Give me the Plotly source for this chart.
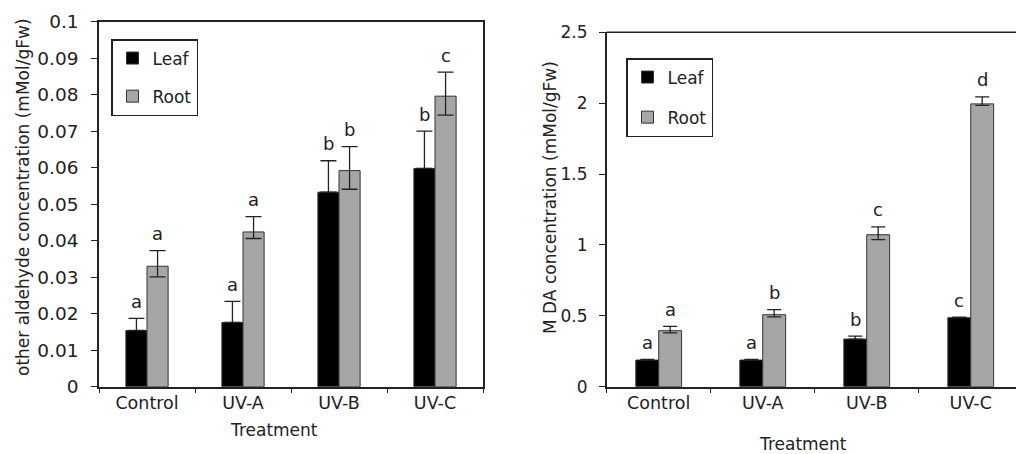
import plotly.graph_objects as go

categories = ["Control", "UV-A", "UV-B", "UV-C"]

# Left chart: other aldehyde concentration (mMol/gFw)
ald_leaf = [0.0154, 0.0176, 0.0533, 0.0598]
ald_leaf_err = [0.0033, 0.0058, 0.0086, 0.0102]
ald_leaf_err_minus = [0, 0, 0, 0]  # lower arm hidden inside the black bar
ald_root = [0.0330, 0.0424, 0.0592, 0.0796]
ald_root_err = [0.0043, 0.0042, 0.0066, 0.0066]
ald_root_err_minus = [0.0029, 0.0018, 0.0051, 0.0052]
ald_leaf_letters = ["a", "a", "b", "b"]
ald_root_letters = ["a", "a", "b", "c"]

# Right chart: MDA concentration (mMol/gFw)
mda_leaf = [0.188, 0.188, 0.336, 0.487]
mda_leaf_err = [0.004, 0.004, 0.021, 0.004]
mda_leaf_err_minus = [0, 0, 0, 0]
mda_root = [0.395, 0.508, 1.072, 1.995]
mda_root_err = [0.030, 0.035, 0.056, 0.050]
mda_root_err_minus = [0.015, 0.015, 0.035, 0.010]
mda_leaf_letters = ["a", "a", "b", "c"]
mda_root_letters = ["a", "b", "c", "d"]

FONT = "DejaVu Sans"
TXT = "#222222"
LEAF_C = "#000000"
ROOT_C = "#a6a6a6"
EDGE = "#333333"

fig = go.Figure()

def add_pair(leaf, leaf_err, leaf_err_m, root, root_err, root_err_m, xa, ya, legend, capw):
    fig.add_trace(go.Bar(
        x=categories, y=leaf, name="Leaf", xaxis=xa, yaxis=ya, legend=legend,
        legendgroup=legend + "leaf",
        marker=dict(color=LEAF_C, line=dict(color=EDGE, width=1)),
        error_y=dict(type="data", array=leaf_err, arrayminus=leaf_err_m, symmetric=False,
                     color=TXT, thickness=1.3, width=capw),
    ))
    fig.add_trace(go.Bar(
        x=categories, y=root, name="Root", xaxis=xa, yaxis=ya, legend=legend,
        legendgroup=legend + "root",
        marker=dict(color=ROOT_C, line=dict(color=EDGE, width=1)),
        error_y=dict(type="data", array=root_err, arrayminus=root_err_m, symmetric=False,
                     color=TXT, thickness=1.3, width=capw),
    ))

add_pair(ald_leaf, ald_leaf_err, ald_leaf_err_minus, ald_root, ald_root_err, ald_root_err_minus,
         "x", "y", "legend", 8)
add_pair(mda_leaf, mda_leaf_err, mda_leaf_err_minus, mda_root, mda_root_err, mda_root_err_minus,
         "x2", "y2", "legend2", 7)

annotations = []
def add_letters(vals, errs, letters, xref, yref, shift):
    for c, v, e, t in zip(categories, vals, errs, letters):
        annotations.append(dict(x=c, y=v + e, xref=xref, yref=yref, text=t, showarrow=False,
                                xshift=shift, yshift=17, yanchor="middle",
                                font=dict(family=FONT, size=18, color=TXT)))

add_letters(ald_leaf, ald_leaf_err, ald_leaf_letters, "x", "y", -10.5)
add_letters(ald_root, ald_root_err, ald_root_letters, "x", "y", 10.5)
add_letters(mda_leaf, mda_leaf_err, mda_leaf_letters, "x2", "y2", -11.5)
add_letters(mda_root, mda_root_err, mda_root_letters, "x2", "y2", 11.5)

W, H = 1016, 454
# axis titles
annotations.append(dict(x=274 / W, y=1 - 430 / H, xref="paper", yref="paper", text="Treatment",
                        showarrow=False, xanchor="center", yanchor="middle",
                        font=dict(family=FONT, size=17, color=TXT)))
annotations.append(dict(x=803 / W, y=1 - 444 / H, xref="paper", yref="paper", text="Treatment",
                        showarrow=False, xanchor="center", yanchor="middle",
                        font=dict(family=FONT, size=17, color=TXT)))
annotations.append(dict(x=23 / W, y=1 - 197 / H, xref="paper", yref="paper",
                        text="other aldehyde concentration (mMol/gFw)", textangle=-90,
                        showarrow=False, xanchor="center", yanchor="middle",
                        font=dict(family=FONT, size=17, color=TXT)))
annotations.append(dict(x=550 / W, y=1 - 198 / H, xref="paper", yref="paper",
                        text="M DA concentration (mMol/gFw)", textangle=-90,
                        showarrow=False, xanchor="center", yanchor="middle",
                        font=dict(family=FONT, size=17, color=TXT)))

axis_common = dict(showgrid=False, zeroline=False, showline=True, linecolor=TXT, linewidth=1.5,
                   ticks="outside", tickcolor=TXT, ticklen=6, tickwidth=1.2,
                   tickfont=dict(family=FONT, size=18, color=TXT), automargin=False)

fig.update_layout(
    width=W, height=H,
    margin=dict(l=0, r=0, t=0, b=0, autoexpand=False),
    paper_bgcolor="white", plot_bgcolor="white",
    barmode="group", bargap=0.56, bargroupgap=0.0,
    showlegend=True,
    xaxis=dict(axis_common, domain=[99 / W, 483 / W], anchor="y", range=[-0.5, 3.5],
               tickson="boundaries", mirror=True, ticklen=5,
               tickfont=dict(family=FONT, size=17.5, color=TXT)),
    yaxis=dict(axis_common, domain=[1 - 386.7 / H, 1 - 21.7 / H], anchor="x", range=[0, 0.1],
               dtick=0.01, mirror=True, ticklabelstandoff=9,
               tickfont=dict(family=FONT, size=18.5, color=TXT)),
    xaxis2=dict(axis_common, domain=[606.7 / W, 1.0], anchor="y2", range=[-0.5, 3.435],
                tickson="boundaries", ticklen=5,
                tickfont=dict(family=FONT, size=17.5, color=TXT)),
    yaxis2=dict(axis_common, domain=[1 - 386.7 / H, 1 - 32.3 / H], anchor="x2", range=[0, 2.5],
                dtick=0.5, ticklabelstandoff=8,
                tickfont=dict(family=FONT, size=17, color=TXT)),
    legend=dict(x=111 / W, y=1 - 39 / H, xanchor="left", yanchor="top",
                bordercolor=TXT, borderwidth=1.5, bgcolor="white",
                font=dict(family=FONT, size=17, color=TXT), tracegroupgap=13,
                itemwidth=30),
    legend2=dict(x=626 / W, y=1 - 58 / H, xanchor="left", yanchor="top",
                 bordercolor=TXT, borderwidth=1.5, bgcolor="white",
                 font=dict(family=FONT, size=17, color=TXT), tracegroupgap=15,
                 itemwidth=30),
    annotations=annotations,
    shapes=[dict(type="line", xref="x2 domain", yref="y2 domain", x0=0, x1=1, y0=1, y1=1,
                 line=dict(color=TXT, width=1.5))],
)

fig.write_html("out.html", config={"displayModeBar": False},
               post_script="document.body.style.margin='0';document.body.style.overflow='hidden';")
